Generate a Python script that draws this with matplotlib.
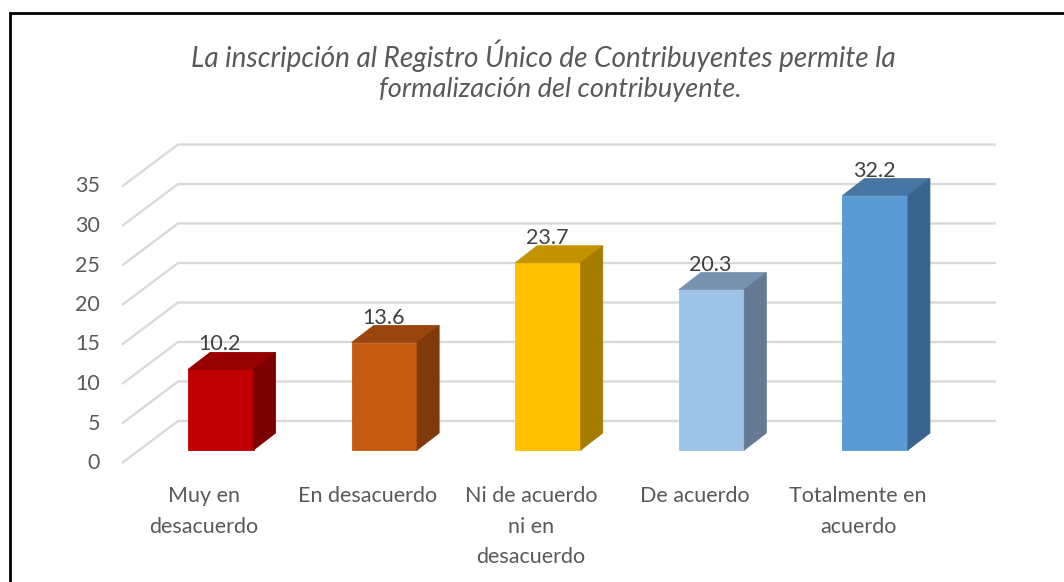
import matplotlib
matplotlib.use("Agg")
import matplotlib.pyplot as plt
from matplotlib.patches import Polygon
from matplotlib.lines import Line2D

plt.rcParams['font.family'] = ['Lato', 'DejaVu Sans']

# ---- data ----
categories = ["Muy en\ndesacuerdo", "En desacuerdo", "Ni de acuerdo\nni en\ndesacuerdo",
              "De acuerdo", "Totalmente en\nacuerdo"]
values = [10.2, 13.6, 23.7, 20.3, 32.2]
yticks = [0, 5, 10, 15, 20, 25, 30, 35]
title_lines = ["La inscripción al Registro Único de Contribuyentes permite la",
               "formalización del contribuyente."]

# ---- style ----
front_colors = ["#C00000", "#C55A11", "#FFC000", "#9DC3E6", "#5B9BD5"]
top_colors = ["#960000", "#9A450D", "#C39300", "#7893B0", "#4676A4"]
side_colors = ["#7C0000", "#80390B", "#A67C00", "#657A92", "#39648D"]
grid_color = "#D9D9D9"
text_color = "#595959"

W, H, DPI = 1064, 582, 100
fig = plt.figure(figsize=(W / DPI, H / DPI), dpi=DPI)
fig.patch.set_facecolor("white")

# axes = front plane of the bars (pixel geometry)
ax_l, ax_r, ax_b, ax_t = 139, 957, 450, 173.5
ax = fig.add_axes([ax_l / W, 1 - ax_b / H, (ax_r - ax_l) / W, (ax_b - ax_t) / H])
ax.set_xlim(-0.5, len(values) - 0.5)
ax.set_ylim(0, max(yticks))
ax.axis("off")

px_x = (ax_r - ax_l) / len(values)       # pixels per x unit
px_y = (ax_b - ax_t) / max(yticks)       # pixels per y unit

# 3D offsets (pixels -> data)
dxf, dyf = -17 / px_x, -13 / px_y        # front edge of floor
dxb, dyb = 39 / px_x, 29 / px_y          # back wall
ddx, ddy = 22 / px_x, 17 / px_y          # bar depth

x0, x1 = -0.5, len(values) - 0.5
for v in yticks:
    ax.add_line(Line2D([x0 + dxf, x0 + dxb, x1 + dxb], [v + dyf, v + dyb, v + dyb],
                       color=grid_color, lw=1.7, zorder=0, clip_on=False,
                       solid_capstyle='butt'))
    ax.text(x0 + dxf - 22 / px_x, v + dyf, f"{v}", ha='right', va='center',
            fontsize=15.5, color=text_color)

xs = list(range(len(values)))
bw = 0.4
ax.bar(xs, values, width=bw, color=front_colors, zorder=3, clip_on=False,
       edgecolor=front_colors, linewidth=0.6)
for i, v in enumerate(values):
    xl, xr = i - bw / 2, i + bw / 2
    top = Polygon([(xl, v), (xr, v), (xr + ddx, v + ddy), (xl + ddx, v + ddy)],
                  closed=True, facecolor=top_colors[i], edgecolor=top_colors[i],
                  lw=0.6, zorder=3, clip_on=False)
    side = Polygon([(xr, 0), (xr, v), (xr + ddx, v + ddy), (xr + ddx, ddy)],
                   closed=True, facecolor=side_colors[i], edgecolor=side_colors[i],
                   lw=0.6, zorder=3, clip_on=False)
    ax.add_patch(top)
    ax.add_patch(side)
    ax.text(i - 1 / px_x, v + ddy + 8 / px_y, f"{v:.1f}", ha='center', va='center',
            fontsize=15.5, color="#404040", zorder=5)
    ax.text(i + dxf, dyf - 23 / px_y, categories[i], ha='center', va='top',
            fontsize=15.5, color=text_color, linespacing=1.66)

# title
fig.text(543 / W, 1 - 56 / H, title_lines[0], ha='center', va='center',
         fontsize=20.2, style='italic', weight='normal', color=text_color)
fig.text(560 / W, 1 - 90 / H, title_lines[1], ha='center', va='center',
         fontsize=19.5, style='italic', weight='normal', color=text_color)

# chart frame (left and top edges visible)
fig.add_artist(Line2D([9.5 / W, 9.5 / W, 1063 / W], [0, 1 - 13 / H, 1 - 13 / H],
                      transform=fig.transFigure, color='black', lw=2,
                      solid_joinstyle='miter'))

fig.savefig("out.png", dpi=DPI, facecolor="white")
